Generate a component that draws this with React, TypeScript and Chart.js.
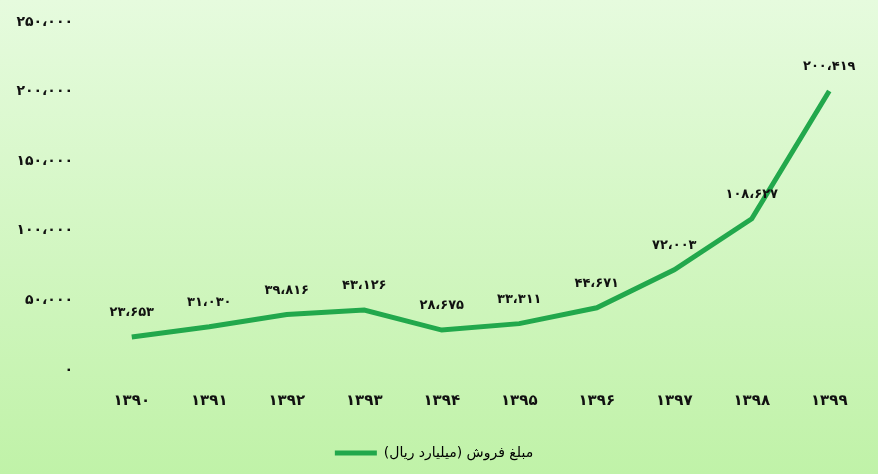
import React, { useEffect, useRef } from "react";
import { Chart, registerables } from "chart.js";

Chart.register(...registerables);

const years = ["1390", "1391", "1392", "1393", "1394", "1395", "1396", "1397", "1398", "1399"];
const salesValues = [23653, 31030, 39816, 43126, 28675, 33311, 44671, 72003, 108627, 200419];
const seriesLabel = "مبلغ فروش (میلیارد ریال)";
const yTicks = [0, 50000, 100000, 150000, 200000, 250000];

const FA = "۰۱۲۳۴۵۶۷۸۹";
const toFa = (s: string) => s.replace(/[0-9]/g, (d) => FA[Number(d)]);
const fmt = (v: number) => {
  const s = Math.round(v).toString().replace(/\B(?=(\d{3})+(?!\d))/g, "،");
  return toFa(s);
};

const LINE = "#22a84c";
const FONT = "'DejaVu Sans', sans-serif";

const labelPlugin = {
  id: "valueLabels",
  afterDatasetsDraw(chart: any) {
    const { ctx } = chart;
    const meta = chart.getDatasetMeta(0);
    ctx.save();
    ctx.font = `bold 13px ${FONT}`;
    ctx.fillStyle = "#111";
    ctx.textAlign = "center";
    ctx.textBaseline = "middle";
    meta.data.forEach((pt: any, i: number) => {
      ctx.fillText(fmt(salesValues[i]), pt.x, pt.y - 24);
    });
    ctx.restore();
  },
};

export default function App() {
  const ref = useRef<HTMLCanvasElement>(null);
  useEffect(() => {
    document.body.style.margin = "0";
    const chart = new Chart(ref.current!, {
      type: "line",
      data: {
        labels: years.map(toFa),
        datasets: [
          {
            label: seriesLabel,
            data: salesValues,
            borderColor: LINE,
            backgroundColor: LINE,
            borderWidth: 5,
            pointRadius: 0,
            tension: 0,
          },
        ],
      },
      options: {
        responsive: false,
        animation: false,
        layout: { padding: { top: 22, right: 10, bottom: 4, left: 0 } },
        scales: {
          x: {
            offset: true,
            grid: { display: false, drawTicks: false },
            border: { display: false },
            ticks: {
              color: "#111",
              padding: 22,
              font: { family: FONT, size: 15, weight: "bold" },
            },
          },
          y: {
            min: 0,
            max: 250000,
            afterFit: (s: any) => {
              s.width = 93;
              s.paddingTop = 0;
              s.paddingBottom = 0;
            },
            afterBuildTicks: (s: any) => {
              s.ticks = yTicks.map((v) => ({ value: v }));
            },
            grid: { display: false, drawTicks: false },
            border: { display: false },
            ticks: {
              color: "#111",
              padding: 20,
              font: { family: FONT, size: 14, weight: "bold" },
              callback: (v: any) => fmt(Number(v)),
            },
          },
        },
        plugins: {
          legend: {
            position: "bottom",
            labels: {
              color: "#111",
              boxWidth: 42,
              boxHeight: 5,
              padding: 14,
              font: { family: FONT, size: 14 },
              generateLabels: () => [
                {
                  text: seriesLabel,
                  fillStyle: LINE,
                  strokeStyle: LINE,
                  lineWidth: 0,
                  datasetIndex: 0,
                } as any,
              ],
            },
          },
          tooltip: { enabled: false },
        },
      },
      plugins: [labelPlugin],
    });
    return () => chart.destroy();
  }, []);
  return (
    <div
      style={{
        width: 878,
        height: 474,
        background: "linear-gradient(180deg, #e6fbde 0%, #c0f2a8 100%)",
      }}
    >
      <canvas ref={ref} width={878} height={474} />
    </div>
  );
}
